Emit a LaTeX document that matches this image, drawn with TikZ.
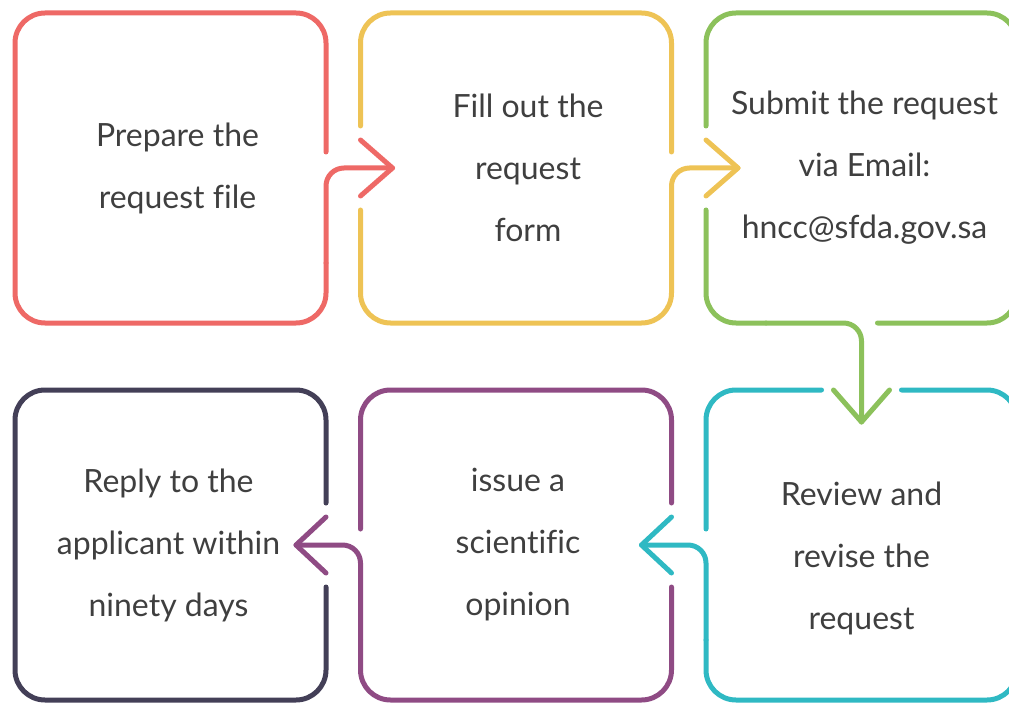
\documentclass[tikz,border=0pt]{standalone}
\usepackage{fontspec}
\setmainfont{Lato}[Ligatures=CommonOff]
\usepackage{xcolor}
\usetikzlibrary{positioning,calc}

\definecolor{boxred}{HTML}{EE6966}
\definecolor{boxyellow}{HTML}{EEC355}
\definecolor{boxgreen}{HTML}{8CC15B}
\definecolor{boxteal}{HTML}{2FB9C3}
\definecolor{boxpurple}{HTML}{8F4B84}
\definecolor{boxdark}{HTML}{433F57}
\definecolor{txtgray}{HTML}{3F3F3F}

\begin{document}
\begin{tikzpicture}[
  x=1pt, y=1pt,
  stage/.style={minimum width=311pt, minimum height=310pt, inner sep=0pt, outer sep=0pt},
  frameline/.style={line width=5pt, line cap=round, rounded corners=30pt},
  turnline/.style={line width=5pt, line cap=round, rounded corners=18pt},
  chevron/.style={line width=5pt, line cap=round, line join=round},
  stagetext/.style={font=\fontsize{32}{62}\selectfont, text=txtgray, align=center}
]
\useasboundingbox (0,0) rectangle (1009,-703);

% stage boxes
\node[stage] (prep) at (170.5,-168) {};
\node[stage, right=34.5pt of prep] (form) {};
\node[stage, right=34.5pt of form] (submit) {};
\node[stage, below=67pt of submit] (review) {};
\node[stage, left=34.5pt of review] (issue) {};
\node[stage, left=34.5pt of issue] (reply) {};

% texts
\node[stagetext, xshift=7pt] at (prep) {Prepare the\\request file};
\node[stagetext, xshift=12pt] at (form) {Fill out the\\request\\form};
\node[stagetext, xshift=3pt] at (submit) {Submit the request\\via Email:\\hncc@sfda.gov.sa};
\node[stagetext, yshift=-13pt] at (review) {Review and\\revise the\\request};
\node[stagetext, xshift=2pt] at (issue) {issue a\\scientific\\opinion};
\node[stagetext, xshift=-2pt] at (reply) {Reply to the\\applicant within\\ninety days};

% red
\draw[frameline, boxred] ($(prep.east)+(0,16)$) -- (prep.north east) -- (prep.north west) -- (prep.south west) -- (prep.south east) -- ($(prep.south east)+(0,60)$);
\draw[turnline, boxred] ($(prep.south east)+(0,60)$) -- (prep.east) -- ($(form.west)+(32,0)$);
\draw[chevron, boxred] ($(form.west)+(0,28)$) -- ($(form.west)+(32,0)$) -- ($(form.west)+(0,-28)$);

% yellow
\draw[frameline, boxyellow] ($(form.east)+(0,16)$) -- (form.north east) -- (form.north west) -- ($(form.west)+(0,42)$);
\draw[frameline, boxyellow] ($(form.west)+(0,-42)$) -- (form.south west) -- (form.south east) -- ($(form.south east)+(0,60)$);
\draw[turnline, boxyellow] ($(form.south east)+(0,60)$) -- (form.east) -- ($(submit.west)+(32,0)$);
\draw[chevron, boxyellow] ($(submit.west)+(0,28)$) -- ($(submit.west)+(32,0)$) -- ($(submit.west)+(0,-28)$);

% green
\draw[frameline, boxgreen] ($(submit.south)+(16,0)$) -- (submit.south east) -- (submit.north east) -- (submit.north west) -- ($(submit.west)+(0,42)$);
\draw[frameline, boxgreen] ($(submit.west)+(0,-42)$) -- (submit.south west) -- ($(submit.south west)+(60,0)$);
\draw[turnline, boxgreen] ($(submit.south west)+(60,0)$) -- (submit.south) -- ($(review.north)+(0,-32)$);
\draw[chevron, boxgreen] ($(review.north)+(-28,0)$) -- ($(review.north)+(0,-32)$) -- ($(review.north)+(28,0)$);

% teal
\draw[frameline, boxteal] ($(review.west)+(0,16)$) -- (review.north west) -- ($(review.north)+(-40,0)$);
\draw[frameline, boxteal] ($(review.north)+(40,0)$) -- (review.north east) -- (review.south east) -- (review.south west) -- ($(review.south west)+(0,60)$);
\draw[turnline, boxteal] ($(review.south west)+(0,60)$) -- (review.west) -- ($(issue.east)+(-30,0)$);
\draw[chevron, boxteal] ($(issue.east)+(0,28)$) -- ($(issue.east)+(-30,0)$) -- ($(issue.east)+(0,-28)$);

% purple
\draw[frameline, boxpurple] ($(issue.west)+(0,16)$) -- (issue.north west) -- (issue.north east) -- ($(issue.east)+(0,42)$);
\draw[frameline, boxpurple] ($(issue.east)+(0,-42)$) -- (issue.south east) -- (issue.south west) -- ($(issue.south west)+(0,60)$);
\draw[turnline, boxpurple] ($(issue.south west)+(0,60)$) -- (issue.west) -- ($(reply.east)+(-30,0)$);
\draw[chevron, boxpurple] ($(reply.east)+(0,28)$) -- ($(reply.east)+(-30,0)$) -- ($(reply.east)+(0,-28)$);

% dark
\draw[frameline, boxdark] ($(reply.east)+(0,42)$) -- (reply.north east) -- (reply.north west) -- (reply.south west) -- (reply.south east) -- ($(reply.east)+(0,-42)$);
\end{tikzpicture}
\end{document}
